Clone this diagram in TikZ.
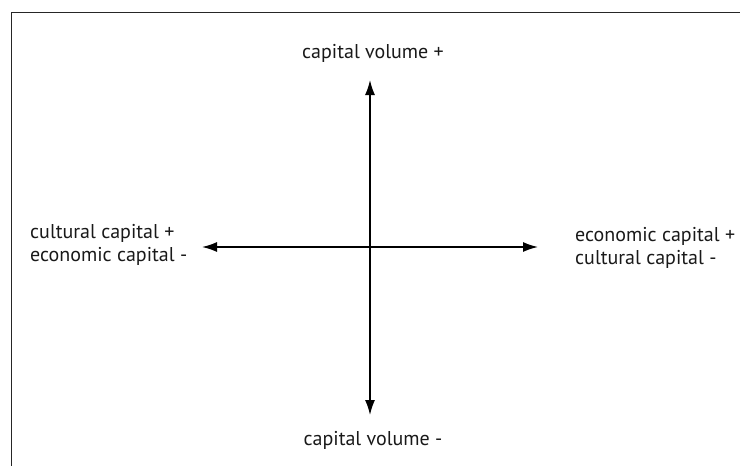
\documentclass[tikz,border=0pt]{standalone}
\usepackage{fontspec}
\setmainfont{PT Sans}
\usetikzlibrary{arrows.meta}
\begin{document}
\begin{tikzpicture}[x=1pt,y=-1pt,
  axis/.style={line width=1.5pt,{Latex[length=15pt,width=10pt]}-{Latex[length=15pt,width=10pt]}},
  lbl/.style={font=\fontsize{20}{23}\selectfont,inner sep=0pt,text=black!90},
  frame/.style={line width=1pt,black!85}]
\useasboundingbox (0,0) rectangle (740,466);
\draw[frame] (11.5,466) -- (11.5,12.3) -- (740,12.3);
\coordinate (top) at (370,80);
\coordinate (bot) at (370,415);
\coordinate (lft) at (202,247);
\coordinate (rgt) at (538,247);
\draw[axis] (top) -- (bot);
\draw[axis] (lft) -- (rgt);
\node[lbl,anchor=base] (tl) at (373,58) {capital volume +};
\node[lbl,anchor=base] (bl) at (373,445) {capital volume -};
\node[lbl,anchor=west,align=left] (ll) at (30,244.5) {cultural capital +\\economic capital -};
\node[lbl,anchor=west,align=left] (rl) at (575,248) {economic capital +\\cultural capital -};
\end{tikzpicture}
\end{document}
